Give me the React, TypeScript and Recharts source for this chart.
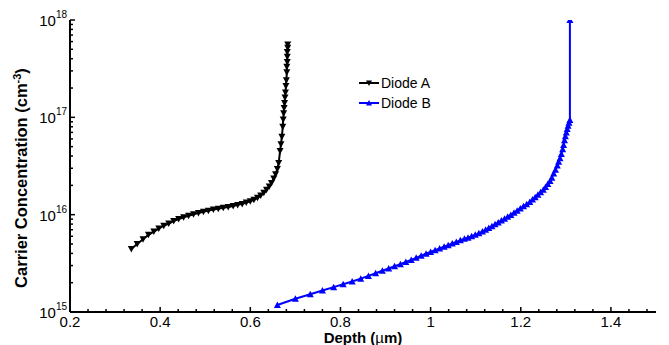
import React from 'react';
import { ComposedChart, Line, XAxis, YAxis, Legend } from 'recharts';

// Diode A: depth (µm) and carrier concentration (cm^-3)
const diodeADepth = [
  0.336, 0.349, 0.362, 0.374, 0.386, 0.397, 0.408, 0.419, 0.43, 0.441,
  0.452, 0.463, 0.474, 0.485, 0.496, 0.507, 0.518, 0.529, 0.54, 0.551,
  0.562, 0.572, 0.582, 0.591, 0.6, 0.608, 0.616, 0.623, 0.63, 0.636,
  0.642, 0.647, 0.652, 0.656, 0.66, 0.663, 0.666, 0.668, 0.67, 0.672,
  0.673, 0.674, 0.675, 0.676, 0.677, 0.678, 0.679, 0.68, 0.681, 0.681,
  0.682, 0.682, 0.682, 0.683, 0.683,
];
const diodeAConc = [
  4.45e15, 5.0e15, 5.6e15, 6.2e15, 6.7e15, 7.2e15, 7.7e15, 8.1e15, 8.6e15, 9.0e15,
  9.4e15, 9.75e15, 1.01e16, 1.04e16, 1.07e16, 1.1e16, 1.13e16, 1.15e16, 1.18e16, 1.2e16,
  1.23e16, 1.26e16, 1.29e16, 1.33e16, 1.37e16, 1.42e16, 1.49e16, 1.57e16, 1.68e16, 1.8e16,
  1.95e16, 2.12e16, 2.35e16, 2.6e16, 2.95e16, 3.4e16, 4.5e16, 5.3e16, 6.3e16, 8.0e16,
  9.5e16, 1.1e17, 1.25e17, 1.4e17, 1.6e17, 1.8e17, 2.1e17, 2.4e17, 2.9e17, 3.3e17,
  3.7e17, 4.2e17, 4.7e17, 5.2e17, 5.6e17,
];

// Diode B: depth (µm) and carrier concentration (cm^-3)
const diodeBDepth = [
  0.66, 0.7, 0.733, 0.76, 0.785, 0.806, 0.826, 0.845, 0.862, 0.878,
  0.893, 0.907, 0.92, 0.933, 0.945, 0.957, 0.968, 0.979, 0.99, 1.0,
  1.01, 1.02, 1.03, 1.039, 1.048, 1.057, 1.066, 1.075, 1.083, 1.091,
  1.099, 1.107, 1.115, 1.122, 1.129, 1.136, 1.143, 1.15, 1.157, 1.164,
  1.171, 1.178, 1.185, 1.192, 1.199, 1.206, 1.213, 1.22, 1.226, 1.232,
  1.238, 1.244, 1.25, 1.255, 1.26, 1.265, 1.269, 1.273, 1.277, 1.281,
  1.284, 1.287, 1.29, 1.293, 1.295, 1.297, 1.299, 1.301, 1.303, 1.305,
  1.307, 1.309, 1.309,
];
const diodeBConc = [
  1.18e15, 1.37e15, 1.52e15, 1.66e15, 1.8e15, 1.93e15, 2.06e15, 2.2e15, 2.35e15, 2.5e15,
  2.65e15, 2.8e15, 2.95e15, 3.1e15, 3.27e15, 3.43e15, 3.6e15, 3.78e15, 3.97e15, 4.14e15,
  4.32e15, 4.5e15, 4.68e15, 4.85e15, 5.05e15, 5.25e15, 5.45e15, 5.65e15, 5.8e15, 6.0e15,
  6.2e15, 6.45e15, 6.7e15, 7.0e15, 7.3e15, 7.6e15, 7.95e15, 8.3e15, 8.7e15, 9.1e15,
  9.5e15, 9.95e15, 1.045e16, 1.1e16, 1.16e16, 1.22e16, 1.28e16, 1.35e16, 1.43e16, 1.51e16,
  1.6e16, 1.7e16, 1.8e16, 1.92e16, 2.06e16, 2.22e16, 2.4e16, 2.65e16, 2.9e16, 3.2e16,
  3.5e16, 3.8e16, 4.2e16, 4.7e16, 5.2e16, 5.8e16, 6.4e16, 7.0e16, 7.6e16, 8.2e16,
  8.8e16, 9.4e16, 1.0e18,
];

const seriesNames = ['Diode A', 'Diode B'];
const seriesColors = ['#000000', '#0000ff'];

const xMajorTicks = [0.2, 0.4, 0.6, 0.8, 1.0, 1.2, 1.4];
const xMajorLabels = ['0.2', '0.4', '0.6', '0.8', '1', '1.2', '1.4'];
const xDomain = [0.2, 1.5];
const yDecades = [1e15, 1e16, 1e17, 1e18];
const yExponents = ['15', '16', '17', '18'];

const diodeA = diodeADepth.map((x, i) => ({ x, y: diodeAConc[i] }));
const diodeB = diodeBDepth.map((x, i) => ({ x, y: diodeBConc[i] }));

// minor ticks: every 0.04 µm on x, 2..9 × decade on y
const xTicks: number[] = [];
for (let k = 0; k <= 32; k++) xTicks.push(Math.round((0.2 + k * 0.04) * 100) / 100);
const yTicks: number[] = [];
yDecades.forEach((d, i) => {
  yTicks.push(d);
  if (i < yDecades.length - 1) for (let m = 2; m <= 9; m++) yTicks.push(d * m);
});

const FONT = "'Liberation Sans', Arial, Helvetica, sans-serif";
const MAJOR = 5;
const MINOR = 3;

const xMajorIndex = (v: number) => xMajorTicks.findIndex((t) => Math.abs(t - v) < 1e-6);
const yMajorIndex = (v: number) => yDecades.findIndex((t) => Math.abs(t - v) / t < 1e-6);

const BottomTick = (props: any) => {
  const { x, y, payload } = props;
  const idx = xMajorIndex(payload.value);
  return (
    <g>
      <line x1={x} x2={x} y1={y} y2={y - (idx >= 0 ? MAJOR : MINOR)} stroke="#000" strokeWidth={1.5} />
      {idx >= 0 && (
        <text x={x} y={y + 15} textAnchor="middle" fontSize={15} fontFamily={FONT} fill="#000">
          {xMajorLabels[idx]}
        </text>
      )}
    </g>
  );
};

const TopTick = (props: any) => {
  const { x, y, payload } = props;
  const idx = xMajorIndex(payload.value);
  return <line x1={x} x2={x} y1={y} y2={y + (idx >= 0 ? MAJOR : MINOR)} stroke="#000" strokeWidth={1.5} />;
};

const LeftTick = (props: any) => {
  const { x, y, payload } = props;
  const idx = yMajorIndex(payload.value);
  return (
    <g>
      <line x1={x} x2={x + (idx >= 0 ? MAJOR : MINOR)} y1={y} y2={y} stroke="#000" strokeWidth={1.5} />
      {idx >= 0 && (
        <text x={x - 3} y={y + 6} textAnchor="end" fontSize={15} fontFamily={FONT} fill="#000">
          10
          <tspan dy={-8} fontSize={10}>
            {yExponents[idx]}
          </tspan>
        </text>
      )}
    </g>
  );
};

const RightTick = (props: any) => {
  const { x, y, payload } = props;
  const idx = yMajorIndex(payload.value);
  return <line x1={x} x2={x - (idx >= 0 ? MAJOR : MINOR)} y1={y} y2={y} stroke="#000" strokeWidth={1.5} />;
};

const DownTriangle = (props: any) => {
  const { cx, cy, fill, index } = props;
  if (cx == null || cy == null) return <g key={`a-${index}`} />;
  return (
    <path key={`a-${index}`} d={`M${cx - 3.5},${cy - 3}L${cx + 3.5},${cy - 3}L${cx},${cy + 3.5}Z`} fill={fill} />
  );
};

const UpTriangle = (props: any) => {
  const { cx, cy, fill, index } = props;
  if (cx == null || cy == null) return <g key={`b-${index}`} />;
  return (
    <path key={`b-${index}`} d={`M${cx - 3.5},${cy + 3}L${cx + 3.5},${cy + 3}L${cx},${cy - 3.5}Z`} fill={fill} />
  );
};

const LegendBox = () => (
  <div style={{ fontFamily: FONT, fontSize: 14, lineHeight: '20px', color: '#000' }}>
    {seriesNames.map((name, i) => (
      <div key={name} style={{ display: 'flex', alignItems: 'center', height: 20 }}>
        <svg width={23} height={20} style={{ display: 'block' }}>
          <line x1={1} x2={21} y1={10} y2={10} stroke={seriesColors[i]} strokeWidth={2} />
          {i === 0 ? (
            <path d="M8,7.5L14,7.5L11,13Z" fill={seriesColors[i]} />
          ) : (
            <path d="M8,12.5L14,12.5L11,7Z" fill={seriesColors[i]} />
          )}
        </svg>
        <span>{name}</span>
      </div>
    ))}
  </div>
);

const YLabel = () => (
  <text
    x={27}
    y={178}
    transform="rotate(-90 27 178)"
    textAnchor="middle"
    fontSize={16.5}
    fontWeight="bold"
    fontFamily={FONT}
    fill="#000"
  >
    Carrier Concentration (cm
    <tspan dy={-6} fontSize={11}>-3</tspan>
    <tspan dy={6}>)</tspan>
  </text>
);

const XLabel = () => (
  <text x={363} y={343} textAnchor="middle" fontSize={15} fontWeight="bold" fontFamily={FONT} fill="#000">
    Depth (<tspan fontWeight="normal">µ</tspan>m)
  </text>
);

export default function App() {
  return (
    <div style={{ position: 'absolute', left: 0, top: 0, width: 669, height: 345, background: '#fff' }}>
      <ComposedChart width={669} height={345} margin={{ top: 20, right: 13, bottom: 0, left: 0 }}>
        <XAxis
          xAxisId={0}
          type="number"
          dataKey="x"
          domain={xDomain}
          ticks={xTicks}
          interval={0}
          allowDataOverflow
          orientation="bottom"
          height={33}
          tickSize={0}
          tickMargin={0}
          tickLine={false}
          axisLine={{ stroke: '#000', strokeWidth: 2 }}
          tick={<BottomTick />}
          label={<XLabel />}
        />
        <XAxis
          xAxisId="top"
          type="number"
          domain={xDomain}
          ticks={xTicks}
          interval={0}
          allowDataOverflow
          orientation="top"
          height={0}
          tickSize={0}
          tickMargin={0}
          tickLine={false}
          axisLine={{ stroke: '#000', strokeWidth: 2 }}
          tick={<TopTick />}
        />
        <YAxis
          yAxisId={0}
          type="number"
          scale="log"
          domain={[1e15, 1e18]}
          ticks={yTicks}
          interval={0}
          allowDataOverflow
          width={70}
          tickSize={0}
          tickMargin={0}
          tickLine={false}
          axisLine={{ stroke: '#000', strokeWidth: 2 }}
          tick={<LeftTick />}
          label={<YLabel />}
        />
        <YAxis
          yAxisId="right"
          orientation="right"
          type="number"
          scale="log"
          domain={[1e15, 1e18]}
          ticks={yTicks}
          interval={0}
          allowDataOverflow
          width={0}
          tickSize={0}
          tickMargin={0}
          tickLine={false}
          axisLine={{ stroke: '#000', strokeWidth: 2 }}
          tick={<RightTick />}
        />
        <Legend
          layout="vertical"
          align="center"
          verticalAlign="middle"
          content={<LegendBox />}
          wrapperStyle={{ position: 'absolute', left: 358, top: 73, width: 110 }}
        />
        <Line
          data={diodeA}
          dataKey="y"
          name={seriesNames[0]}
          type="linear"
          stroke={seriesColors[0]}
          fill={seriesColors[0]}
          strokeWidth={2}
          dot={<DownTriangle />}
          activeDot={false}
          isAnimationActive={false}
        />
        <Line
          data={diodeB}
          dataKey="y"
          name={seriesNames[1]}
          type="linear"
          stroke={seriesColors[1]}
          fill={seriesColors[1]}
          strokeWidth={2}
          dot={<UpTriangle />}
          activeDot={false}
          isAnimationActive={false}
        />
      </ComposedChart>
    </div>
  );
}
